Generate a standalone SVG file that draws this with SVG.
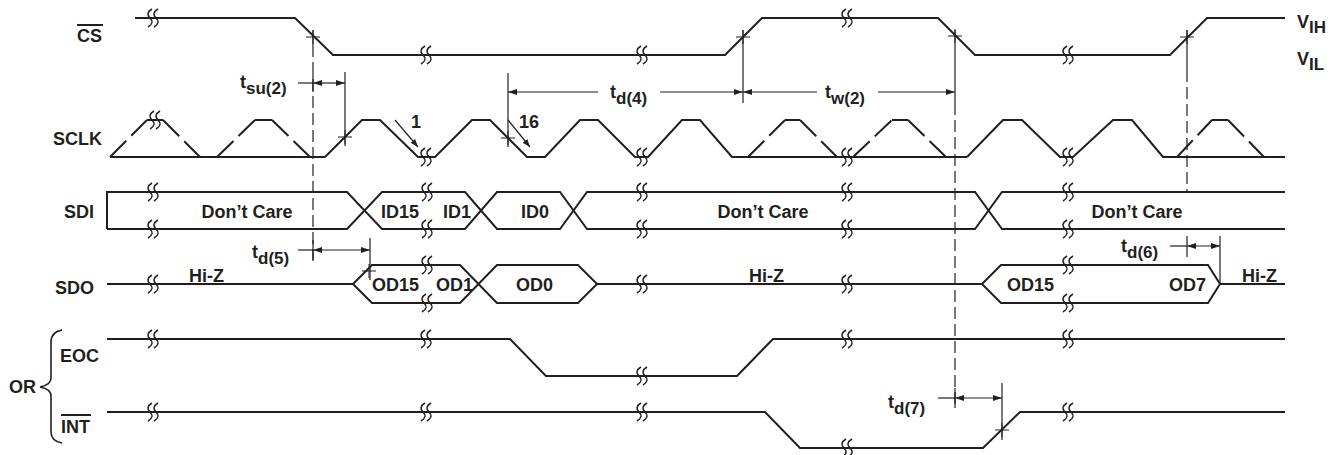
<svg xmlns="http://www.w3.org/2000/svg" xmlns:xlink="http://www.w3.org/1999/xlink" width="1337" height="455" viewBox="0 0 1337 455">
<style>
  .sig{fill:none;stroke:#231f20;stroke-width:2;stroke-linejoin:miter}
  .dsig{fill:none;stroke:#231f20;stroke-width:2;stroke-dasharray:23 7}
  .ref{fill:none;stroke:#231f20;stroke-width:1.2}
  .dref{fill:none;stroke:#231f20;stroke-width:1.2;stroke-dasharray:12 5}
  .arr{fill:none;stroke:#231f20;stroke-width:1.2}
  .brk{fill:none;stroke:#231f20;stroke-width:1.5}
  .crs{fill:none;stroke:#231f20;stroke-width:1}
  text{font-family:"Liberation Sans",Arial,sans-serif;font-weight:bold;font-size:18px;fill:#231f20}
  .sub{font-size:17px}
  .bar{stroke:#231f20;stroke-width:2}
</style>
<defs>
  <marker id="ah" viewBox="0 0 9 6" refX="9" refY="3" markerWidth="9" markerHeight="6" markerUnits="userSpaceOnUse" orient="auto-start-reverse">
    <path d="M0,0 L9,3 L0,6 z" fill="#231f20"/>
  </marker>
  <marker id="sa" viewBox="0 0 8 6" refX="8" refY="3" markerWidth="8" markerHeight="6" markerUnits="userSpaceOnUse" orient="auto">
    <path d="M0,0 L8,3 L0,6 z" fill="#231f20"/>
  </marker>
  <g id="brk">
    <path class="brk" d="M-1,-9 C-6,-6 -6,-3 -3,0 C0,3 0,6 -5,9 M5,-9 C0,-6 0,-3 3,0 C6,3 6,6 1,9"/>
  </g>
  <g id="crs">
    <path class="crs" d="M-7,0 H7 M0,-7 V7"/>
  </g>
</defs>

<g id="labels">
  <text x="77" y="42">CS</text>
  <line class="bar" x1="77" y1="25" x2="103" y2="25"/>
  <text x="53" y="145">SCLK</text>
  <text x="64" y="218">SDI</text>
  <text x="55" y="294">SDO</text>
  <text x="60" y="362">EOC</text>
  <text x="61" y="433">INT</text>
  <line class="bar" x1="61" y1="415" x2="91" y2="415"/>
  <text x="9" y="393">OR</text>
  <path class="sig" style="stroke-width:1.6" d="M62,330 Q51,332 51,342 L51,378 Q51,385 40,387 Q51,389 51,396 L51,432 Q51,441 62,443"/>
  <text x="1297" y="28">V<tspan class="sub" dy="5">IH</tspan></text>
  <text x="1297" y="65">V<tspan class="sub" dy="5">IL</tspan></text>
</g>

<g id="cs">
  <path class="sig" d="M135,18 L295,18 L333,55 L725,55 L762,18 L938,18 L975,55 L1170,55 L1207,18 L1285,18"/>
  <use xlink:href="#brk" x="153" y="18"/>
  <use xlink:href="#brk" x="426" y="55"/>
  <use xlink:href="#brk" x="642" y="55"/>
  <use xlink:href="#brk" x="847" y="18"/>
  <use xlink:href="#brk" x="1068" y="55"/>
</g>

<g id="sclk">
  <path class="sig" d="M110,157 L325,157"/>
  <path class="sig" d="M325,157 L362,120 L380,120 L418,157 L435,157 L472,120 L490,120 L527,157 L545,157 L580,120 L598,120 L635,157 L648,157 L682,120 L700,120 L732,157 L748,157"/>
  <path class="sig" d="M748,157 L967,157"/>
  <path class="sig" d="M967,157 L1003,120 L1022,120 L1060,157 L1073,157 L1113,120 L1132,120 L1163,157 L1177,157 L1285,157"/>
  <path class="dsig" d="M110,157 L147,120"/>
  <path class="sig" d="M147,120 L163,120"/>
  <path class="dsig" d="M163,120 L200,157"/>
  <path class="dsig" d="M217,157 L255,120"/>
  <path class="sig" d="M255,120 L272,120"/>
  <path class="dsig" d="M272,120 L310,157"/>
  <path class="dsig" d="M748,157 L785,120"/>
  <path class="sig" d="M785,120 L800,120"/>
  <path class="dsig" d="M800,120 L837,157"/>
  <path class="dsig" d="M853,157 L892,120"/>
  <path class="sig" d="M892,120 L908,120"/>
  <path class="dsig" d="M908,120 L946,157"/>
  <path class="dsig" d="M1177,157 L1212,120"/>
  <path class="sig" d="M1212,120 L1228,120"/>
  <path class="dsig" d="M1228,120 L1264,157"/>
  <use xlink:href="#brk" x="155" y="120"/>
  <use xlink:href="#brk" x="426" y="157"/>
  <use xlink:href="#brk" x="642" y="157"/>
  <use xlink:href="#brk" x="847" y="157"/>
  <use xlink:href="#brk" x="1068" y="157"/>
  <text x="411" y="128">1</text>
  <text x="519" y="128">16</text>
</g>

<g id="sdi">
  <path class="sig" d="M107,229 L107,192 L347,192 L382,229 L465,229 L497,192 L560,192 L587,229 L975,229 L1002,192 L1285,192"/>
  <path class="sig" d="M107,229 L347,229 L382,192 L465,192 L497,229 L560,229 L587,192 L975,192 L1002,229 L1285,229"/>
  <use xlink:href="#brk" x="153" y="192"/><use xlink:href="#brk" x="153" y="229"/>
  <use xlink:href="#brk" x="427" y="192"/><use xlink:href="#brk" x="427" y="229"/>
  <use xlink:href="#brk" x="642" y="192"/><use xlink:href="#brk" x="642" y="229"/>
  <use xlink:href="#brk" x="847" y="192"/><use xlink:href="#brk" x="847" y="229"/>
  <use xlink:href="#brk" x="1068" y="192"/><use xlink:href="#brk" x="1068" y="229"/>
  <text x="247" y="218" text-anchor="middle">Don’t Care</text>
  <text x="381" y="218">ID15</text>
  <text x="443" y="218">ID1</text>
  <text x="521" y="218">ID0</text>
  <text x="763" y="218" text-anchor="middle">Don’t Care</text>
  <text x="1137" y="218" text-anchor="middle">Don’t Care</text>
</g>

<g id="sdo">
  <path class="sig" d="M107,284 L353,284"/>
  <path class="sig" d="M353,284 L372,265 L460,265 L497,303 L578,303 L597,284"/>
  <path class="sig" d="M353,284 L372,303 L460,303 L497,265 L578,265 L597,284"/>
  <path class="sig" d="M597,284 L982,284"/>
  <path class="sig" d="M982,284 L1001,265 L1208,265 L1220,284 L1208,303 L1001,303 Z"/>
  <path class="sig" d="M1220,284 L1285,284"/>
  <use xlink:href="#brk" x="153" y="284"/>
  <use xlink:href="#brk" x="427" y="265"/><use xlink:href="#brk" x="427" y="303"/>
  <use xlink:href="#brk" x="642" y="284"/>
  <use xlink:href="#brk" x="847" y="284"/>
  <use xlink:href="#brk" x="1068" y="265"/><use xlink:href="#brk" x="1068" y="303"/>
  <text x="189" y="282">Hi-Z</text>
  <text x="372" y="291">OD15</text>
  <text x="436" y="291">OD1</text>
  <text x="516" y="291">OD0</text>
  <text x="749" y="282">Hi-Z</text>
  <text x="1007" y="291">OD15</text>
  <text x="1169" y="291">OD7</text>
  <text x="1242" y="282">Hi-Z</text>
</g>

<g id="eoc">
  <path class="sig" d="M107,339 L510,339 L546,376 L737,376 L773,339 L1285,339"/>
  <use xlink:href="#brk" x="153" y="339"/>
  <use xlink:href="#brk" x="426" y="339"/>
  <use xlink:href="#brk" x="642" y="376"/>
  <use xlink:href="#brk" x="847" y="339"/>
  <use xlink:href="#brk" x="1068" y="339"/>
</g>

<g id="int">
  <path class="sig" d="M107,412 L765,412 L800,448 L983,448 L1020,412 L1285,412"/>
  <use xlink:href="#brk" x="153" y="412"/>
  <use xlink:href="#brk" x="426" y="412"/>
  <use xlink:href="#brk" x="642" y="412"/>
  <use xlink:href="#brk" x="847" y="448"/>
  <use xlink:href="#brk" x="1068" y="412"/>
</g>

<g id="connectors">
  <line class="ref" x1="313" y1="30" x2="313" y2="45"/>
  <line class="dref" x1="313" y1="45" x2="313" y2="262"/>
  <line class="ref" x1="313" y1="74" x2="313" y2="92"/>
  <line class="ref" x1="313" y1="240" x2="313" y2="260"/>
  <line class="ref" x1="345" y1="72" x2="345" y2="146"/>
  <line class="ref" x1="370" y1="238" x2="370" y2="280"/>
  <line class="ref" x1="508" y1="73" x2="508" y2="147"/>
  <line class="ref" x1="743" y1="30" x2="743" y2="103"/>
  <line class="ref" x1="955" y1="30" x2="955" y2="103"/>
  <line class="dref" x1="955" y1="103" x2="955" y2="407"/>
  <line class="ref" x1="955" y1="388" x2="955" y2="408"/>
  <line class="ref" x1="1187" y1="30" x2="1187" y2="70"/>
  <line class="dref" x1="1187" y1="70" x2="1187" y2="192"/>
  <line class="ref" x1="1187" y1="236" x2="1187" y2="257"/>
  <line class="ref" x1="1220" y1="236" x2="1220" y2="284"/>
  <line class="ref" x1="1002" y1="383" x2="1002" y2="440"/>
  <use xlink:href="#crs" x="313" y="37"/>
  <use xlink:href="#crs" x="743" y="37"/>
  <use xlink:href="#crs" x="955" y="36"/>
  <use xlink:href="#crs" x="1187" y="37"/>
  <use xlink:href="#crs" x="345" y="137"/>
  <use xlink:href="#crs" x="508" y="138"/>
  <use xlink:href="#crs" x="369" y="271"/>
  <use xlink:href="#crs" x="1002" y="430"/>
  <line class="arr" x1="298" y1="83" x2="313" y2="83"/>
  <line class="arr" x1="313" y1="83" x2="345" y2="83" marker-start="url(#ah)" marker-end="url(#ah)"/>
  <line class="arr" x1="298" y1="250" x2="313" y2="250"/>
  <line class="arr" x1="313" y1="250" x2="370" y2="250" marker-start="url(#ah)" marker-end="url(#ah)"/>
  <line class="arr" x1="508" y1="92" x2="598" y2="92" marker-start="url(#ah)"/>
  <line class="arr" x1="660" y1="92" x2="743" y2="92" marker-end="url(#ah)"/>
  <line class="arr" x1="743" y1="92" x2="817" y2="92" marker-start="url(#ah)"/>
  <line class="arr" x1="878" y1="92" x2="955" y2="92" marker-end="url(#ah)"/>
  <line class="arr" x1="1170" y1="246" x2="1187" y2="246"/>
  <line class="arr" x1="1187" y1="246" x2="1220" y2="246" marker-start="url(#ah)" marker-end="url(#ah)"/>
  <line class="arr" x1="938" y1="398" x2="955" y2="398"/>
  <line class="arr" x1="955" y1="398" x2="1002" y2="398" marker-start="url(#ah)" marker-end="url(#ah)"/>
  <line class="arr" x1="395" y1="120" x2="418" y2="147" marker-end="url(#sa)"/>
  <line class="arr" x1="508" y1="120" x2="530" y2="147" marker-end="url(#sa)"/>
  <text x="240" y="88">t<tspan class="sub" dy="6">su(2)</tspan></text>
  <text x="610" y="98">t<tspan class="sub" dy="6">d(4)</tspan></text>
  <text x="825" y="98">t<tspan class="sub" dy="6">w(2)</tspan></text>
  <text x="252" y="258">t<tspan class="sub" dy="6">d(5)</tspan></text>
  <text x="1121" y="252">t<tspan class="sub" dy="6">d(6)</tspan></text>
  <text x="888" y="408">t<tspan class="sub" dy="6">d(7)</tspan></text>
</g>
</svg>
